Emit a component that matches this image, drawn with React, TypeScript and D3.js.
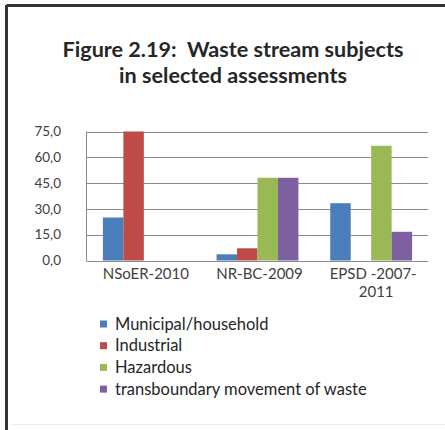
import React from "react";
import * as d3 from "d3";

const categories = ["NSoER-2010", "NR-BC-2009", "EPSD -2007-2011"];
const categoryLines = [["NSoER-2010"], ["NR-BC-2009"], ["EPSD -2007-", "2011"]];
const seriesNames = ["Municipal/household", "Industrial", "Hazardous", "transboundary movement of waste"];
const municipal = [25.0, 3.6, 33.3];
const industrial = [75.0, 7.1, 0];
const hazardous = [0, 48.1, 66.7];
const transboundary = [0, 48.1, 16.7];
const yTicks = [0, 15, 30, 45, 60, 75];
const colors = ["#4A7EBB", "#BE4B48", "#98B954", "#7D60A0"];

export default function App() {
  const W = 445, H = 430;
  const left = 87, right = 428, top = 131.5, bottom = 260.5;
  const series = [municipal, industrial, hazardous, transboundary];
  const x0 = d3.scaleBand<string>().domain(categories).range([left, right]).paddingInner(0.28).paddingOuter(0.14);
  const x1 = d3.scaleBand<number>().domain(d3.range(series.length)).range([0, x0.bandwidth()]);
  const y = d3.scaleLinear().domain([0, 75]).range([bottom, top]);
  const fmt = (v: number) => d3.format(".1f")(v).replace(".", ",");
  const font = "Lato, 'Open Sans', sans-serif";
  const catBand = d3.scaleBand<string>().domain(categories).range([left, right]);

  return (
    <svg width={W} height={H} style={{ position: "absolute", left: 0, top: 0, background: "#fff" }} fontFamily={font}>
      <rect x={0} y={0} width={W} height={H} fill="#fff" />
      {/* frame */}
      <line x1={6.5} y1={5.5} x2={W} y2={5.5} stroke="#333" strokeWidth={3} />
      <line x1={6.5} y1={5} x2={6.5} y2={H} stroke="#333" strokeWidth={3} />
      <line x1={10} y1={424.5} x2={W} y2={424.5} stroke="#eee" strokeWidth={1} />
      {/* title */}
      <text x={233} y={57} textAnchor="middle" fontSize={21.6} fontWeight="bold" fill="#262626" style={{ whiteSpace: "pre" }}>Figure 2.19:  Waste stream subjects</text>
      <text x={233} y={83} textAnchor="middle" fontSize={21.6} fontWeight="bold" fill="#262626">in selected assessments</text>
      {/* gridlines */}
      {yTicks.map((t) => (
        <g key={t}>
          <line x1={left} x2={right} y1={Math.round(y(t)) + 0.5} y2={Math.round(y(t)) + 0.5} stroke="#8a8a8a" strokeWidth={1} />
          <text x={61} y={y(t)} dy="0.35em" textAnchor="end" fontSize={13.5} fill="#404040">{fmt(t)}</text>
        </g>
      ))}
      <line x1={left - 0.5} x2={left - 0.5} y1={top} y2={bottom + 1} stroke="#8a8a8a" strokeWidth={1} />
      {/* bars */}
      {categories.map((c, ci) => (
        <g key={c} transform={`translate(${x0(c)},0)`}>
          {series.map((s, si) =>
            s[ci] > 0 ? (
              <rect key={si} x={x1(si)} y={y(s[ci])} width={x1.bandwidth()} height={y(0) - y(s[ci])} fill={colors[si]} />
            ) : null
          )}
        </g>
      ))}
      {/* category labels */}
      {categories.map((c, ci) => (
        <text key={c} x={(catBand(c) as number) + catBand.bandwidth() / 2 + 2} y={279} textAnchor="middle" fontSize={15} fill="#404040">
          {categoryLines[ci].map((l, li) => (
            <tspan key={li} x={(catBand(c) as number) + catBand.bandwidth() / 2 + 2 + (li > 0 ? 3 : 0)} dy={li === 0 ? 0 : 18}>{l}</tspan>
          ))}
        </text>
      ))}
      {/* legend */}
      {seriesNames.map((n, i) => (
        <g key={n} transform={`translate(100,${324 + i * 21.7})`}>
          <rect x={0} y={-3.5} width={7} height={7} fill={colors[i]} />
          <text x={15} y={0} dy="0.35em" fontSize={16.5} fill="#262626">{n}</text>
        </g>
      ))}
    </svg>
  );
}
